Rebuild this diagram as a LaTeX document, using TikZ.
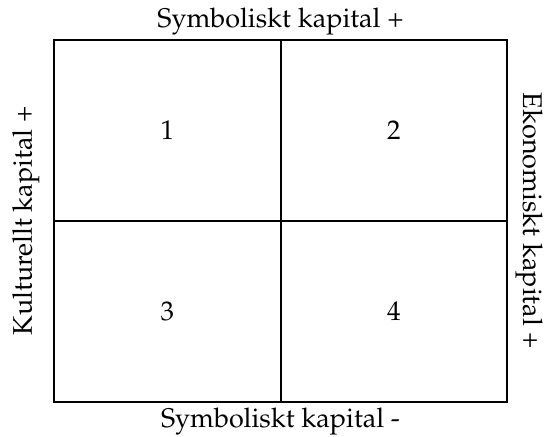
\documentclass[tikz,border=0pt]{standalone}
\usepackage[T1]{fontenc}
\usepackage{mathpazo}
\usetikzlibrary{positioning}

\begin{document}
\begin{tikzpicture}[x=0.5pt, y=-0.5pt,
  quadrant/.style={rectangle, draw, line width=1pt, minimum width=113.25pt, minimum height=90.5pt, inner sep=0pt, outer sep=0pt, anchor=center},
  axislabel/.style={inner sep=0pt, font=\fontsize{13.5}{15}\selectfont}]

\useasboundingbox (0,0) rectangle (550,437);

% QUADRANTS

\node [quadrant, font=\fontsize{13.5}{15}\selectfont, anchor=north west] (q1) at (54,40) {1};
\node [quadrant, font=\fontsize{13.5}{15}\selectfont, right=0pt of q1] (q2) {2};
\node [quadrant, font=\fontsize{13.5}{15}\selectfont, below=0pt of q1] (q3) {3};
\node [quadrant, font=\fontsize{13.5}{15}\selectfont, right=0pt of q3] (q4) {4};

% AXES

\node [axislabel, above=2pt of q1.north east] (symtop) {Symboliskt kapital +};
\node [axislabel, below=3pt of q3.south east] (symbot) {Symboliskt kapital -};
\node [axislabel, rotate=90, left=7pt of q1.south west, anchor=south] (kult) {Kulturellt kapital +};
\node [axislabel, rotate=-90, right=4pt of q2.south east, anchor=south] (ekon) {Ekonomiskt kapital +};

\end{tikzpicture}
\end{document}
